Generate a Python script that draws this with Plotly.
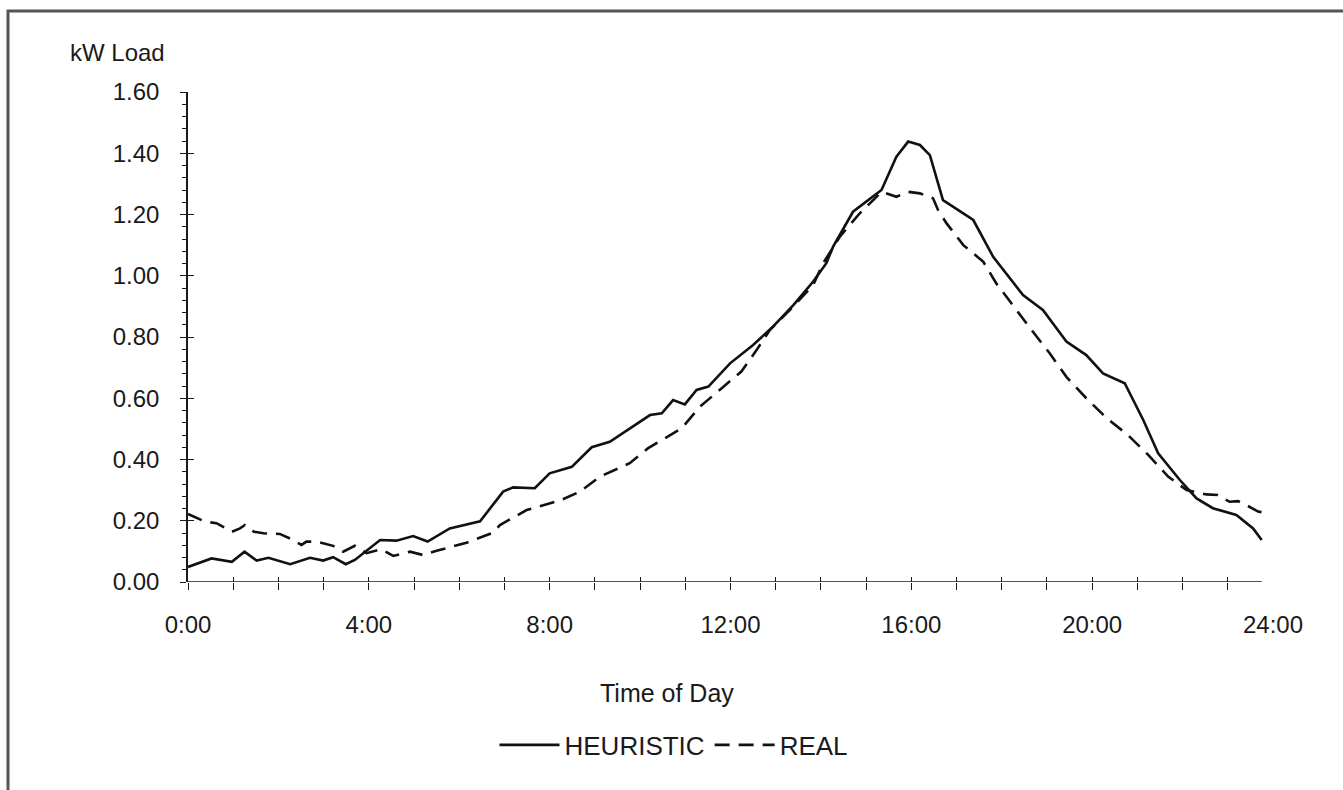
import plotly.graph_objects as go

# ---- data (time of day in hours, load in kW) ----
heur_time = [0.00, 0.52, 0.97, 1.25, 1.52, 1.78, 2.26, 2.70, 2.99, 3.21, 3.49, 3.69,
             4.25, 4.61, 4.98, 5.30, 5.79, 6.46, 6.97, 7.19, 7.67, 8.00, 8.49, 8.93,
             9.33, 9.77, 10.22, 10.48, 10.73, 10.99, 11.25, 11.51, 11.99, 12.50, 12.94,
             13.39, 13.83, 14.12, 14.27, 14.71, 15.34, 15.67, 15.93, 16.19, 16.41, 16.70,
             17.37, 17.81, 18.47, 18.91, 19.43, 19.87, 20.24, 20.72, 21.13, 21.46, 21.94,
             22.31, 22.67, 23.19, 23.56, 23.75]
heur_load = [0.049, 0.077, 0.066, 0.099, 0.070, 0.079, 0.058, 0.079, 0.070, 0.081, 0.058, 0.072,
             0.137, 0.135, 0.150, 0.132, 0.175, 0.198, 0.295, 0.309, 0.306, 0.355, 0.376, 0.440,
             0.458, 0.502, 0.545, 0.551, 0.594, 0.580, 0.627, 0.638, 0.714, 0.774, 0.834,
             0.904, 0.981, 1.041, 1.095, 1.209, 1.280, 1.389, 1.438, 1.427, 1.394, 1.247,
             1.182, 1.062, 0.937, 0.888, 0.785, 0.741, 0.681, 0.649, 0.529, 0.420, 0.333,
             0.273, 0.241, 0.219, 0.175, 0.137]

real_time = [0.00, 0.38, 0.63, 0.97, 1.15, 1.26, 1.46, 1.67, 2.03, 2.29, 2.51, 2.62, 2.85,
             3.21, 3.43, 3.69, 3.95, 4.28, 4.54, 4.91, 5.20, 5.50, 6.16, 6.75, 6.90, 7.49,
             7.86, 8.23, 8.67, 9.11, 9.77, 10.18, 10.92, 11.32, 11.76, 12.24, 12.58, 12.87,
             13.31, 13.83, 14.05, 14.42, 14.86, 15.34, 15.67, 15.93, 16.19, 16.48, 16.59,
             16.78, 17.15, 17.59, 17.88, 18.29, 18.69, 19.06, 19.43, 19.87, 20.32, 20.79,
             21.24, 21.68, 22.09, 22.53, 22.78, 23.04, 23.23, 23.41, 23.67, 23.75]
real_load = [0.222, 0.197, 0.192, 0.164, 0.175, 0.186, 0.164, 0.159, 0.157, 0.140, 0.121, 0.132, 0.132,
             0.118, 0.099, 0.118, 0.094, 0.107, 0.085, 0.099, 0.088, 0.102, 0.128, 0.161, 0.186, 0.235,
             0.251, 0.266, 0.295, 0.344, 0.388, 0.437, 0.502, 0.572, 0.627, 0.687, 0.758, 0.823,
             0.888, 0.970, 1.041, 1.128, 1.204, 1.274, 1.258, 1.274, 1.269, 1.253, 1.215,
             1.171, 1.100, 1.046, 0.975, 0.894, 0.817, 0.747, 0.670, 0.600, 0.535, 0.480,
             0.415, 0.344, 0.300, 0.286, 0.284, 0.262, 0.264, 0.251, 0.230, 0.228]

series_names = ["HEURISTIC", "REAL"]
hour_ticks = list(range(0, 24))
label_ticks = [0, 4, 8, 12, 16, 20, 24]
label_text = ["0:00", "4:00", "8:00", "12:00", "16:00", "20:00", "24:00"]
y_title = "kW Load"
x_title = "Time of Day"

FONT = "Liberation Sans, Arial, sans-serif"
INK = "#1a1a1a"

fig = go.Figure()
fig.add_trace(go.Scatter(x=heur_time, y=heur_load, mode="lines", name=series_names[0],
                         line=dict(color="#111111", width=2.6)))
fig.add_trace(go.Scatter(x=real_time, y=real_load, mode="lines", name=series_names[1],
                         line=dict(color="#111111", width=2.6, dash="15px,9px")))
# empty helper traces so the overlaid tick / label axes get drawn
for xa, ya in (("x2", "y"), ("x3", "y"), ("x", "y2")):
    fig.add_trace(go.Scatter(x=[None], y=[None], xaxis=xa, yaxis=ya, mode="lines",
                             showlegend=False, hoverinfo="skip"))

W, H = 1343, 790
L, R, T, B = 188, 70, 92, 208

fig.update_layout(
    width=W, height=H,
    margin=dict(l=L, r=R, t=T, b=B),
    paper_bgcolor="white", plot_bgcolor="white",
    font=dict(family=FONT, size=24, color=INK),
    showlegend=True,
    legend=dict(orientation="h", x=(674 - L) / (W - L - R), xanchor="center",
                y=(H - B - 745) / (H - T - B), yanchor="middle",
                font=dict(size=26, color=INK), itemwidth=60, bgcolor="rgba(0,0,0,0)"),
    xaxis=dict(range=[0, 24], showgrid=False, zeroline=False, showline=False,
               tickmode="array", tickvals=hour_ticks, ticks="outside", ticklen=7,
               tickwidth=1.3, tickcolor=INK, showticklabels=False, fixedrange=True),
    xaxis2=dict(range=[0, 24], overlaying="x", anchor="y", showgrid=False, zeroline=False,
                showline=False, tickmode="array", tickvals=hour_ticks, ticks="inside",
                ticklen=5, tickwidth=1.3, tickcolor=INK, showticklabels=False),
    xaxis3=dict(range=[0, 24], overlaying="x", anchor="y", showgrid=False, zeroline=False,
                showline=False, tickmode="array", tickvals=label_ticks, ticktext=label_text,
                ticks="", showticklabels=True, ticklabelstandoff=26,
                tickfont=dict(size=24, color=INK)),
    yaxis=dict(range=[0, 1.6], showgrid=False, zeroline=False, showline=True,
               linecolor=INK, linewidth=1.5, tickmode="linear", tick0=0, dtick=0.2,
               tickformat=".2f", ticks="outside", ticklen=6, tickwidth=1.3, tickcolor=INK,
               minor=dict(ticks="outside", dtick=0.04, ticklen=4, tickwidth=1, tickcolor=INK),
               ticklabelstandoff=16, tickfont=dict(size=24, color=INK), fixedrange=True),
    yaxis2=dict(range=[0, 1.6], overlaying="y", anchor="x", side="left", showgrid=False,
                zeroline=False, showline=False, tickmode="linear", tick0=0, dtick=0.2,
                ticks="inside", ticklen=6, tickwidth=1.3, tickcolor=INK,
                showticklabels=False),
)

# x axis line ends at the last sample (23:45), as in the reference
fig.add_shape(type="line", xref="x", yref="y", x0=0, x1=heur_time[-1], y0=0, y1=0,
              line=dict(color=INK, width=1.5))

# outer frame of the scanned figure (top and left edges visible)
pw = W - L - R
ph = H - T - B
fig.add_shape(type="rect", xref="paper", yref="paper",
              x0=(8 - L) / pw, x1=(W + 20 - L) / pw,
              y0=(H - B - (H + 20)) / ph, y1=(H - B - 11) / ph,
              line=dict(color="#555555", width=3), fillcolor="rgba(0,0,0,0)", layer="below")

fig.add_annotation(text=y_title, xref="paper", yref="paper", x=(68 - L) / pw,
                   y=(H - B - 53) / ph, xanchor="left", yanchor="middle", showarrow=False,
                   font=dict(size=24, color=INK))
fig.add_annotation(text=x_title, xref="paper", yref="paper", x=(667 - L) / pw,
                   y=(H - B - 693) / ph, xanchor="center", yanchor="middle", showarrow=False,
                   font=dict(size=25, color=INK))

fig.write_html("out.html")
